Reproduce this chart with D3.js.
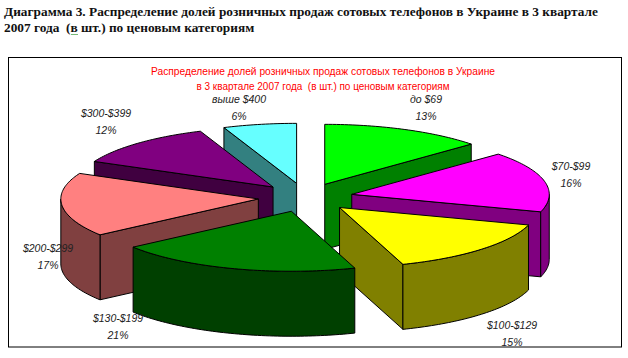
<!DOCTYPE html>
<html>
<head>
<meta charset="utf-8">
<script src="https://cdnjs.cloudflare.com/ajax/libs/d3/7.8.5/d3.min.js"></script>
<style>
html, body {margin:0; padding:0; background:#fff;}
svg {display:block;}
.head {font-family:"Liberation Serif",serif; font-weight:bold; font-size:13.33px; fill:#111;}
.title {font-family:"Liberation Sans",sans-serif; font-size:11.5px; fill:#f00;}
.lab {font-family:"Liberation Sans",sans-serif; font-style:italic; font-size:10.5px; fill:#222; text-anchor:middle;}
</style>
</head>
<body>
<script>
const categories = ["до $69","$70-$99","$100-$129","$130-$199","$200-$299","$300-$399","выше $400"];
// printed labels are rounded, slice sizes estimated from the drawn angles
const percentLabels = ["13%","16%","15%","21%","17%","12%","6%"];
const shares = [13.3,16.4,15.1,20,17.2,12,6];
const topColors = ["#00ff00","#ff00ff","#ffff00","#008000","#ff8080","#800080","#66ffff"];
const sideColors = ["#008000","#800080","#808000","#004000","#804040","#400040","#338080"];
const headLines = ["Диаграмма 3. Распределение долей розничных продаж сотовых телефонов в Украине в 3 квартале","2007 года  (в шт.) по ценовым категориям"];
const titleLines = ["Распределение долей розничных продаж сотовых телефонов в Украине","в 3 квартале 2007 года  (в шт.) по ценовым категориям"];

const width = 628, height = 358;
const depth = 65, explode = 0.24;

const svg = d3.select("body").append("svg")
    .attr("width", width)
    .attr("height", height);

// unit circle -> flattened ellipse
const xScale = d3.scaleLinear().domain([-1,1]).range([108,503]);
const yScale = d3.scaleLinear().domain([-1,1]).range([257.5,137.5]);

const line = d3.line().x(d => d[0]).y(d => d[1]);

const slices = d3.pie().sort(null).value(d => d)(shares);

function pt(a, r, o) {
    return [xScale(o[0] + r*Math.sin(a)), yScale(o[1] + r*Math.cos(a))];
}
function arcPts(a0, a1, o) {
    const n = Math.max(2, Math.ceil((a1-a0)/0.02));
    return d3.range(n+1).map(i => pt(a0 + (a1-a0)*i/n, 1, o));
}
function down(p) {
    return [p[0], p[1]+depth];
}

// back to front
const order = [6,0,5,1,4,2,3];

order.forEach(function(i) {
    const s = slices[i];
    const mid = (s.startAngle + s.endAngle)/2;
    const o = [explode*Math.sin(mid), explode*Math.cos(mid)];
    const g = svg.append("g");
    const apex = pt(0,0,o);

    function wall(pts) {
        g.append("path")
            .attr("d", line(pts) + "Z")
            .attr("fill", sideColors[i])
            .attr("stroke", "#000")
            .attr("stroke-linejoin", "round");
    }

    // radial walls that face the viewer
    if (s.endAngle < Math.PI) {
        const c = pt(s.endAngle,1,o);
        wall([apex,c,down(c),down(apex)]);
    }
    if (s.startAngle > Math.PI) {
        const c = pt(s.startAngle,1,o);
        wall([apex,c,down(c),down(apex)]);
    }
    // outer wall, front half of the rim only
    const a0 = Math.max(s.startAngle, Math.PI/2), a1 = Math.min(s.endAngle, Math.PI*1.5);
    if (a1 > a0) {
        const rim = arcPts(a0,a1,o);
        wall(rim.concat(rim.slice().reverse().map(down)));
    }
    // top
    g.append("path")
        .attr("d", line([apex].concat(arcPts(s.startAngle,s.endAngle,o))) + "Z")
        .attr("fill", topColors[i])
        .attr("stroke", "#000")
        .attr("stroke-linejoin", "round");
});

svg.append("rect")
    .attr("x", 8.5).attr("y", 57.5)
    .attr("width", 613).attr("height", 289.5)
    .attr("fill", "none")
    .attr("stroke", "#000");

svg.selectAll(".head")
    .data(headLines)
    .enter().append("text")
    .attr("class", "head")
    .attr("x", 4)
    .attr("y", (d,i) => 15.5 + i*16)
    .attr("xml:space", "preserve")
    .text(d => d);

// spell checker squiggle under the "в"
svg.append("path")
    .attr("d", "M71,34l1,1l1,-1l1,1l1,-1l1,1l1,-1l1,1")
    .attr("fill", "none")
    .attr("stroke", "#3a9a3a")
    .attr("stroke-width", 0.7);

const titleWidths = [344,253];
svg.selectAll(".title")
    .data(titleLines)
    .enter().append("text")
    .attr("class", "title")
    .attr("x", (d,i) => 323 - titleWidths[i]/2)
    .attr("y", (d,i) => 75 + i*15)
    .attr("textLength", (d,i) => titleWidths[i])
    .attr("lengthAdjust", "spacingAndGlyphs")
    .attr("xml:space", "preserve")
    .text(d => d);

// label anchors, same order as categories
const labelAt = [[426,103],[571,170],[512,329],[118,322],[48,252],[106,117],[239,103]];

categories.forEach(function(c,i) {
    svg.append("text").attr("class","lab")
        .attr("x", labelAt[i][0]).attr("y", labelAt[i][1])
        .text(c);
    svg.append("text").attr("class","lab")
        .attr("x", labelAt[i][0]).attr("y", labelAt[i][1]+16.5)
        .text(percentLabels[i]);
});
</script>
</body>
</html>
